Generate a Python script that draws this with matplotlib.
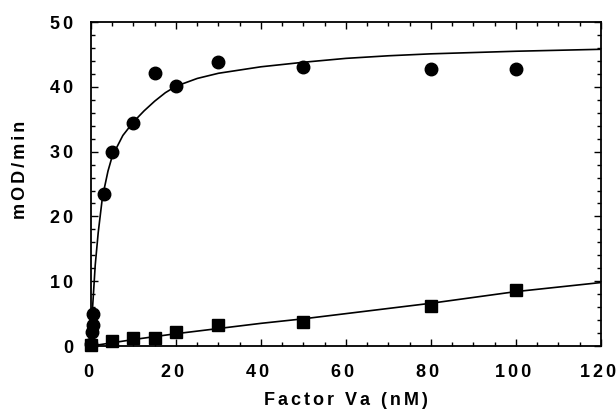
import matplotlib
matplotlib.use("Agg")
import matplotlib.pyplot as plt
from matplotlib.ticker import MultipleLocator, FuncFormatter
from matplotlib.transforms import ScaledTranslation

plt.rcParams['font.family'] = ['Liberation Sans', 'DejaVu Sans']

# Circle series (data)
circle_x = [0, 0.25, 0.5, 0.5, 3, 5, 10, 15, 20, 30, 50, 80, 100]
circle_y = [0.3, 2.2, 3.2, 4.9, 23.5, 29.9, 34.4, 42.2, 40.2, 43.8, 43.1, 42.8, 42.7]
# Circle fitted curve
circle_fit_x = [0, 0.4, 1.0, 1.7, 2.7, 4, 5, 7.5, 10, 12.5, 15, 17.5, 20, 25, 30,
                40, 50, 60, 70, 80, 100, 120]
circle_fit_y = [0, 6.2, 12.5, 17.5, 23.0, 27.0, 29.3, 32.5, 34.6, 36.3, 37.8, 39.1, 40.1,
                41.3, 42.1, 43.1, 43.8, 44.4, 44.8, 45.1, 45.5, 45.8]

# Square series (data)
square_x = [0, 5, 10, 15, 20, 30, 50, 80, 100]
square_y = [0.2, 0.8, 1.2, 1.3, 2.2, 3.2, 3.75, 6.1, 8.7]
# Square fitted curve
square_fit_x = [0, 10, 20, 30, 40, 50, 60, 70, 80, 90, 100, 110, 120]
square_fit_y = [0, 1.0, 1.9, 2.7, 3.5, 4.2, 5.0, 5.8, 6.6, 7.5, 8.4, 9.1, 9.8]

x_ticks = [0, 20, 40, 60, 80, 100, 120]
y_ticks = [0, 10, 20, 30, 40, 50]

x_label = 'Factor Va (nM)'
y_label = 'mOD/min'

HAIR = '\u200a'


def spaced(s, sep=HAIR + HAIR):
    return sep.join(s)


fig = plt.figure(figsize=(6.16, 4.09), dpi=100)
ax = fig.add_axes([0.1477, 0.154, 0.8279, 0.792])

ax.plot(circle_fit_x, circle_fit_y, color='black', lw=1.2, zorder=2)
ax.plot(square_fit_x, square_fit_y, color='black', lw=1.2, zorder=2)
ax.plot(circle_x, circle_y, 'o', color='black', ms=9, zorder=3, clip_on=False)
ax.plot(square_x, square_y, 's', color='black', ms=8, zorder=3, clip_on=False)

ax.set_xlim(0, 120)
ax.set_ylim(0, 50)
ax.set_xticks(x_ticks)
ax.set_yticks(y_ticks)
ax.xaxis.set_major_formatter(FuncFormatter(lambda v, p: spaced(f'{v:g}')))
ax.yaxis.set_major_formatter(FuncFormatter(lambda v, p: spaced(f'{v:g}')))
ax.xaxis.set_minor_locator(MultipleLocator(5))
ax.yaxis.set_minor_locator(MultipleLocator(2))
ax.tick_params(which='both', direction='in', top=True, right=True, width=1.0)
ax.tick_params(which='major', length=5, labelsize=13, pad=13)
ax.tick_params(which='minor', length=3)
shift = ScaledTranslation(-3 / 100, 0, fig.dpi_scale_trans)
for lab in ax.get_xticklabels():
    lab.set_fontweight('bold')
    lab.set_transform(lab.get_transform() + shift)
for lab in ax.get_yticklabels():
    lab.set_fontweight('bold')
for s in ax.spines.values():
    s.set_linewidth(1.3)

ax.set_xlabel(spaced(x_label), fontsize=13, fontweight='bold', labelpad=8)
ax.set_ylabel(spaced(y_label), fontsize=13, fontweight='bold')
ax.yaxis.set_label_coords(-0.121, 0.543)

fig.savefig('out.png', dpi=100)
